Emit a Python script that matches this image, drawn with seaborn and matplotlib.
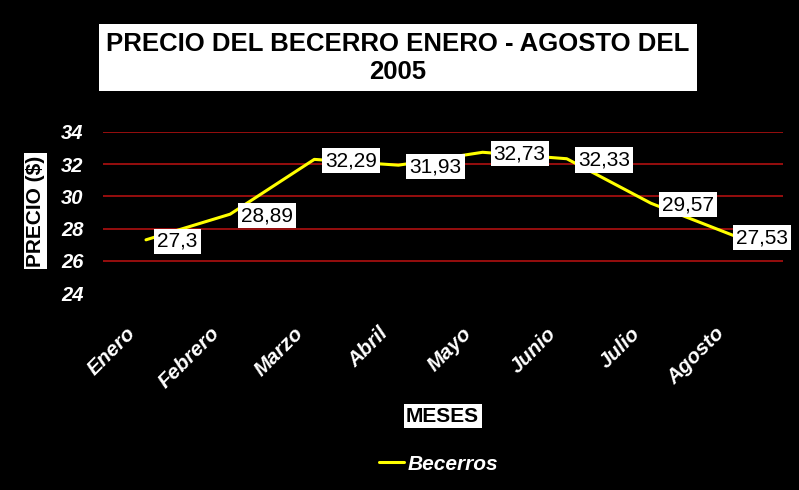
import pandas as pd
import matplotlib
matplotlib.use("Agg")
import matplotlib.pyplot as plt
import matplotlib.transforms as mtrans
import seaborn as sns

# Datos del grafico
MESES = ["Enero", "Febrero", "Marzo", "Abril", "Mayo", "Junio", "Julio", "Agosto"]
PRECIOS = [27.3, 28.89, 32.29, 31.93, 32.73, 32.33, 29.57, 27.53]
ETIQUETAS = ["27,3", "28,89", "32,29", "31,93", "32,73", "32,33", "29,57", "27,53"]
Y_TICKS = [24, 26, 28, 30, 32, 34]
SERIE = "Becerros"


def build_frame():
    data = pd.DataFrame({"mes": MESES, "precio": PRECIOS})
    data["pos"] = range(len(MESES))
    return data


def plot_chart(data):
    sns.set_theme(style="white")
    plt.rcParams["font.family"] = ["Liberation Sans", "DejaVu Sans"]

    fig = plt.figure(figsize=(7.99, 4.90), dpi=100, facecolor="black")
    ax = fig.add_axes([0.129, 0.402, 0.851, 0.329])
    ax.set_facecolor("black")

    sns.lineplot(data=data, x="pos", y="precio", color="#FFFF00", linewidth=2.2,
                 sort=False, label=SERIE, ax=ax, zorder=3)

    ax.set_xlim(-0.51, len(MESES) - 0.43)
    ax.set_ylim(Y_TICKS[0], Y_TICKS[-1])
    ax.set_yticks(Y_TICKS)
    ax.set_xticks(data["pos"])
    ax.set_xticklabels(MESES, rotation=45, ha="right", va="top",
                       rotation_mode="default")

    # lineas de division rojas (no en 24)
    for val in Y_TICKS[1:]:
        ax.axhline(val, color="#B01010", linewidth=1.2, zorder=1)

    for s in ax.spines.values():
        s.set_visible(False)
    ax.tick_params(axis="x", length=0, pad=22, colors="white")
    ax.tick_params(axis="y", length=0, pad=14, colors="white")
    shift = mtrans.ScaledTranslation(-7 / 100, 0, fig.dpi_scale_trans)
    for lab in ax.get_xticklabels():
        lab.set_fontweight("bold")
        lab.set_fontstyle("italic")
        lab.set_fontsize(15)
        lab.set_transform(lab.get_transform() + shift)
    for lab in ax.get_yticklabels():
        lab.set_fontweight("bold")
        lab.set_fontstyle("italic")
        lab.set_fontsize(14.5)
    ax.set_xlabel("")
    ax.set_ylabel("")

    # etiquetas de datos (la ultima pegada al punto para no salirse)
    n = len(ETIQUETAS)
    for i, (x, y, txt) in enumerate(zip(data["pos"], data["precio"], ETIQUETAS)):
        dx = 0.5 if i == n - 1 else 8
        ax.annotate(txt, (x, y), xytext=(dx, -1), textcoords="offset points",
                    ha="left", va="center", fontsize=15, color="black", zorder=4,
                    bbox=dict(boxstyle="square,pad=0.15", fc="white", ec="none"))

    # titulo
    fig.text(0.498, 0.882, "PRECIO DEL BECERRO ENERO - AGOSTO DEL\n2005",
             ha="center", va="center", fontsize=18.5, fontweight="bold",
             color="black", linespacing=1.2,
             bbox=dict(boxstyle="square,pad=0.29", fc="white", ec="none"))

    fig.text(0.044, 0.569, "PRECIO ($)", rotation=90, ha="center", va="center",
             fontsize=15, fontweight="bold", color="black",
             bbox=dict(boxstyle="square,pad=0.1", fc="white", ec="none"))

    fig.text(0.554, 0.151, "MESES", ha="center", va="center",
             fontsize=15, fontweight="bold", color="black",
             family=["Liberation Sans Narrow", "Liberation Sans"],
             bbox=dict(boxstyle="square,pad=0.12", fc="white", ec="none"))

    leg = ax.legend(loc="center", bbox_to_anchor=(0.549, 0.053),
                    bbox_transform=fig.transFigure, frameon=False,
                    handlelength=1.2, handletextpad=0.2,
                    prop={"size": 15, "weight": "bold", "style": "italic"})
    for t in leg.get_texts():
        t.set_color("white")

    fig.savefig("out.png", dpi=100, facecolor="black")


if __name__ == "__main__":
    data = build_frame()
    plot_chart(data)
